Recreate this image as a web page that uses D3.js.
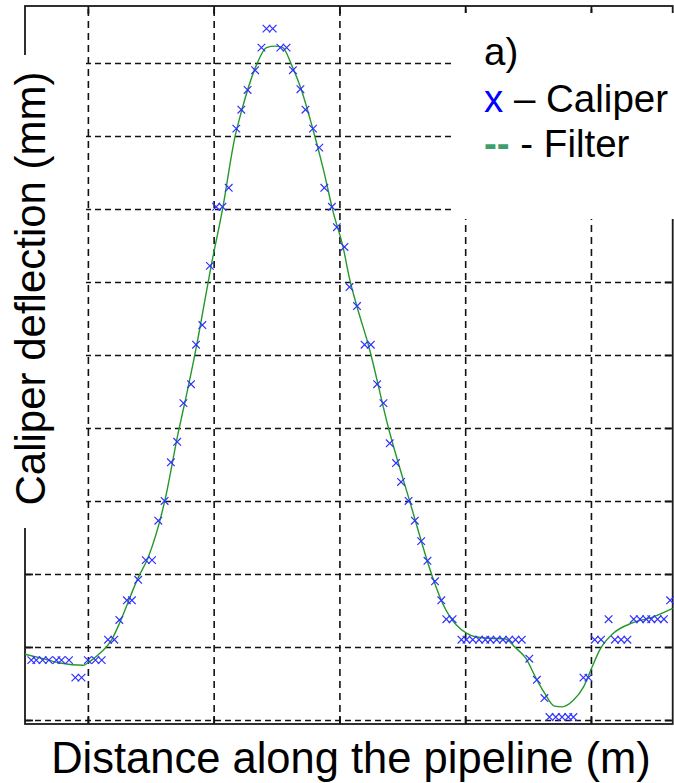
<!DOCTYPE html>
<html>
<head>
<meta charset="utf-8">
<script src="https://cdn.jsdelivr.net/npm/d3@7"></script>
<style>
  html, body { margin: 0; padding: 0; background: #fff; }
  svg { display: block; }
  text { font-family: "Liberation Sans", Arial, sans-serif; }
</style>
</head>
<body>
<div id="chart"></div>
<script>
// ---- data ----
const distance = [0.55, 0.59, 0.64, 0.69, 0.75, 0.79, 0.85, 0.90, 0.95, 1.00,
  1.06, 1.11, 1.16, 1.21, 1.25, 1.31, 1.35, 1.40, 1.46, 1.51,
  1.56, 1.61, 1.66, 1.71, 1.76, 1.82, 1.86, 1.91, 1.97, 2.02,
  2.07, 2.12, 2.18, 2.22, 2.27, 2.33, 2.38, 2.42, 2.47, 2.53,
  2.58, 2.63, 2.69, 2.73, 2.79, 2.84, 2.88, 2.94, 2.98, 3.04,
  3.08, 3.14, 3.20, 3.25, 3.30, 3.35, 3.40, 3.45, 3.49, 3.55,
  3.60, 3.65, 3.70, 3.76, 3.81, 3.85, 3.90, 3.97, 4.01, 4.06,
  4.11, 4.16, 4.20, 4.25, 4.30, 4.35, 4.40, 4.45, 4.51, 4.57,
  4.63, 4.67, 4.72, 4.77, 4.82, 4.86, 4.94, 4.98, 5.03, 5.08,
  5.14, 5.19, 5.24, 5.29, 5.34, 5.39, 5.44, 5.48, 5.53, 5.58, 5.63];

const caliper = [0.82, 0.82, 0.82, 0.82, 0.82, 0.82, 0.82, 0.58, 0.58, 0.82,
  0.82, 0.82, 1.10, 1.10, 1.37, 1.64, 1.64, 1.92, 2.19, 2.19,
  2.73, 3.00, 3.53, 3.81, 4.34, 4.60, 5.14, 5.41, 6.22, 7.03,
  7.03, 7.29, 8.10, 8.36, 8.63, 8.90, 9.21, 9.47, 9.47, 9.21,
  9.21, 8.90, 8.64, 8.36, 8.10, 7.84, 7.29, 7.03, 6.75, 6.48,
  5.93, 5.67, 5.14, 5.14, 4.60, 4.34, 3.79, 3.52, 3.26, 3.00,
  2.73, 2.45, 2.18, 1.90, 1.64, 1.38, 1.38, 1.10, 1.10, 1.10,
  1.10, 1.10, 1.10, 1.10, 1.10, 1.10, 1.10, 1.10, 0.84, 0.55,
  0.30, 0.04, 0.04, 0.04, 0.04, 0.04, 0.58, 0.58, 1.10, 1.10,
  1.38, 1.10, 1.10, 1.10, 1.38, 1.38, 1.38, 1.38, 1.38, 1.38, 1.64];

const filterDistance = [0.50, 0.62, 0.78, 0.96, 1.03, 1.10, 1.19, 1.25, 1.40, 1.48,
  1.61, 1.72, 1.78, 1.85, 1.88, 1.98, 2.07, 2.17, 2.22, 2.34,
  2.42, 2.49, 2.55, 2.62, 2.69, 2.78, 2.87, 2.95, 3.03, 3.08,
  3.14, 3.23, 3.39, 3.56, 3.74, 3.82, 3.93, 4.01, 4.08, 4.20,
  4.32, 4.40, 4.48, 4.57, 4.63, 4.71, 4.77, 4.86, 4.94, 5.01,
  5.07, 5.18, 5.33, 5.49, 5.65];

const filterValue = [0.90, 0.85, 0.78, 0.75, 0.82, 0.92, 1.10, 1.32, 1.95, 2.23,
  2.99, 3.95, 4.42, 5.00, 5.27, 6.22, 6.99, 7.99, 8.33, 8.97,
  9.21, 9.23, 9.21, 8.97, 8.67, 8.15, 7.56, 6.96, 6.47, 6.05,
  5.66, 5.14, 4.00, 2.99, 1.96, 1.60, 1.30, 1.19, 1.14, 1.12,
  1.11, 0.99, 0.85, 0.55, 0.37, 0.19, 0.18, 0.27, 0.45, 0.73,
  0.96, 1.19, 1.33, 1.41, 1.53];

const xGrid = [1, 2, 3, 4, 5];
const yGrid = [0, 1, 2, 3, 4, 5, 6, 7, 8, 9];

const xTitle = "Distance along the pipeline (m)";
const yTitle = "Caliper deflection (mm)";
const panelLabel = "a)";

// ---- layout ----
const W = 674, H = 783;
const L = 25, R = 672.7, T = 6, B = 724;

const svg = d3.select("#chart").append("svg").attr("width", W).attr("height", H);

const x = d3.scaleLinear().domain([0.5, 5.65]).range([L, R]);
const y = d3.scaleLinear().domain([-0.055, 9.78]).range([B, T]);

const gridColor = "#111";

// grid lines via axes
svg.append("g")
  .attr("transform", `translate(0,${B})`)
  .call(d3.axisBottom(x).tickValues(xGrid).tickSize(-(B - T)).tickFormat(""))
  .call(g => g.select(".domain").remove())
  .call(g => g.selectAll(".tick line")
    .attr("stroke", gridColor).attr("stroke-width", 1.6).attr("stroke-dasharray", "7,5"));

svg.append("g")
  .attr("transform", `translate(${L},0)`)
  .call(d3.axisLeft(y).tickValues(yGrid).tickSize(-(R - L)).tickFormat(""))
  .call(g => g.select(".domain").remove())
  .call(g => g.selectAll(".tick line")
    .attr("stroke", gridColor).attr("stroke-width", 1.6).attr("stroke-dasharray", "6,4"));

// inward ticks on all four sides
const tickLen = 8;
const styleTicks = g => {
  g.select(".domain").remove();
  g.selectAll(".tick line").attr("stroke", "#111").attr("stroke-width", 1.8);
};
svg.append("g").attr("transform", `translate(0,${B})`)
  .call(d3.axisBottom(x).tickValues(xGrid).tickSize(-tickLen).tickFormat("")).call(styleTicks);
svg.append("g").attr("transform", `translate(0,${T})`)
  .call(d3.axisTop(x).tickValues(xGrid).tickSize(-tickLen).tickFormat("")).call(styleTicks);
svg.append("g").attr("transform", `translate(${L},0)`)
  .call(d3.axisLeft(y).tickValues(yGrid).tickSize(-tickLen).tickFormat("")).call(styleTicks);
svg.append("g").attr("transform", `translate(${R},0)`)
  .call(d3.axisRight(y).tickValues(yGrid).tickSize(-tickLen).tickFormat("")).call(styleTicks);

// box
svg.append("rect")
  .attr("x", L).attr("y", T).attr("width", R - L).attr("height", B - T)
  .attr("fill", "none").attr("stroke", "#1a1a1a").attr("stroke-width", 1.8);

// white boxes behind y title and legend
svg.append("rect").attr("x", 0).attr("y", 55).attr("width", 86).attr("height", 473).attr("fill", "#fff");
svg.append("rect").attr("x", 451).attr("y", 13).attr("width", W - 451).attr("height", 206).attr("fill", "#fff");

// filter line
const fdata = filterDistance.map((d, i) => [d, filterValue[i]]);
svg.append("path")
  .datum(fdata)
  .attr("fill", "none")
  .attr("stroke", "#23992b")
  .attr("stroke-width", 1.4)
  .attr("d", d3.line().x(d => x(d[0])).y(d => y(d[1])).curve(d3.curveMonotoneX));

// caliper markers (x)
const cdata = distance.map((d, i) => [d, caliper[i]]);
const s = 3.8;
svg.append("g")
  .selectAll("path")
  .data(cdata)
  .join("path")
  .attr("transform", d => `translate(${x(d[0])},${y(d[1])})`)
  .attr("d", `M${-s},${-s}L${s},${s}M${-s},${s}L${s},${-s}`)
  .attr("stroke", "#3030ff")
  .attr("stroke-width", 1.2)
  .attr("fill", "none");

// titles
svg.append("text")
  .attr("x", 351).attr("y", 773)
  .attr("text-anchor", "middle")
  .attr("font-size", 43.5)
  .attr("fill", "#000")
  .text(xTitle);

svg.append("text")
  .attr("transform", `translate(45,288.5) rotate(-90)`)
  .attr("text-anchor", "middle")
  .attr("font-size", 42)
  .attr("fill", "#000")
  .text(yTitle);

// legend
const lx = 484;
svg.append("text").attr("x", lx).attr("y", 65).attr("font-size", 38.5).attr("fill", "#000").text(panelLabel);
const t1 = svg.append("text").attr("x", lx).attr("y", 112).attr("font-size", 38.5).attr("fill", "#000");
t1.append("tspan").attr("fill", "#0000ff").text("x");
t1.append("tspan").text(" \u2013 Caliper");
const t2 = svg.append("text").attr("x", lx).attr("y", 157).attr("font-size", 38.5).attr("fill", "#000");
t2.append("tspan").attr("fill", "#3f9f6c").attr("font-weight", "bold").text("--");
t2.append("tspan").text(" - Filter");
</script>
</body>
</html>
